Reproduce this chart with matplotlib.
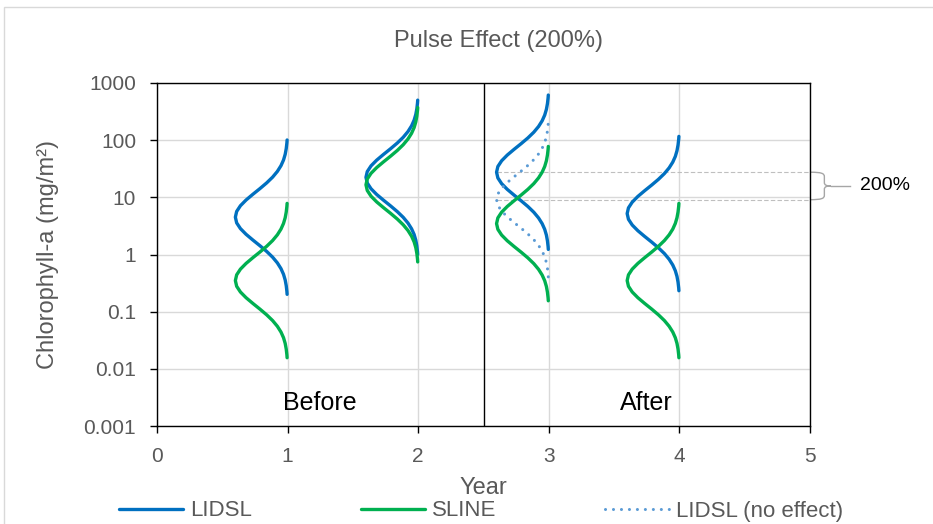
import numpy as np
import matplotlib
matplotlib.use("Agg")
import matplotlib.pyplot as plt
from matplotlib.path import Path
from matplotlib.patches import PathPatch, Rectangle

plt.rcParams['font.family'] = ['Liberation Sans', 'DejaVu Sans']

# half profile of each sideways bell: distance from the centre (decades of chl-a)
# and the relative width of the bulge at that distance
half_offset = [0.0, 0.1, 0.2, 0.3, 0.4, 0.5, 0.6, 0.7, 0.8, 0.9, 1.0, 1.1, 1.2, 1.3, 1.35]
half_depth = [1.000, 0.975, 0.903, 0.795, 0.665, 0.529, 0.400, 0.287, 0.196,
              0.127, 0.078, 0.046, 0.026, 0.0135, 0.0096]
bulge = 0.40  # years

# centre (mg/m2) of each distribution, by year
lidsl_years = [1, 2, 3, 4]
lidsl_centre = [4.5, 22.4, 27.5, 5.2]
sline_years = [1, 2, 3, 4]
sline_centre = [0.35, 16.6, 3.47, 0.35]
noeffect_years = [3]
noeffect_centre = [9.1]

blue = '#0070C0'
green = '#00B050'
light_blue = '#5B9BD5'
grey_txt = '#595959'

# mirror the half profile to get the full bell
offs = np.array([-o for o in half_offset[:0:-1]] + half_offset)
prof = np.array(half_depth[:0:-1] + half_depth)


def bell(year, centre):
    x = year - bulge * prof
    y = centre * 10 ** offs
    return x, y


fig = plt.figure(figsize=(9.33, 5.24), dpi=100)
ax = fig.add_axes([157 / 933, 1 - 426 / 524, (810 - 157) / 933, (426 - 83) / 524])

fig.patches.append(Rectangle((4 / 933, -0.1), 1.2, 1.1 - 7 / 524, transform=fig.transFigure,
                             fill=False, edgecolor='#D9D9D9', lw=1.0))

for i, (yr, c) in enumerate(zip(lidsl_years, lidsl_centre)):
    x, y = bell(yr, c)
    ax.plot(x, y, color=blue, lw=2.4, solid_capstyle='round', zorder=3,
            label='LIDSL' if i == 0 else None)
for i, (yr, c) in enumerate(zip(sline_years, sline_centre)):
    x, y = bell(yr, c)
    ax.plot(x, y, color=green, lw=2.4, solid_capstyle='round', zorder=3,
            label='SLINE' if i == 0 else None)
for i, (yr, c) in enumerate(zip(noeffect_years, noeffect_centre)):
    x, y = bell(yr, c)
    ax.plot(x, y, color=light_blue, lw=2.2, linestyle=(0, (0.01, 2.6)),
            dash_capstyle='round', zorder=4,
            label='LIDSL (no effect)' if i == 0 else None)

ax.set_yscale('log')
ax.set_ylim(0.001, 1000)
ax.set_xlim(0, 5)
ax.set_yticks([0.001, 0.01, 0.1, 1, 10, 100, 1000])
ax.set_yticklabels(['0.001', '0.01', '0.1', '1', '10', '100', '1000'])
ax.set_xticks(range(6))
ax.minorticks_off()
ax.grid(True, color='#D9D9D9', lw=1.0)
ax.set_axisbelow(True)
for s in ax.spines.values():
    s.set_color('black')
    s.set_linewidth(1.0)
ax.tick_params(axis='both', direction='out', length=5, width=1, color='black',
               labelsize=15, labelcolor=grey_txt)
ax.tick_params(axis='y', pad=10)
ax.tick_params(axis='x', pad=10)

ax.axvline(2.5, color='black', lw=1.0, zorder=2)

ax.text(1.25, 0.0025, 'Before', fontsize=18, ha='center', va='center')
ax.text(3.75, 0.0025, 'After', fontsize=18, ha='center', va='center')

# 200% gap between the shifted peak and the no-effect peak
up = lidsl_centre[2]
low = noeffect_centre[0]
x_peak = 3 - bulge
ax.plot([x_peak, 5.0], [up, up], color='#BFBFBF', lw=0.8, ls=(0, (4, 2)), zorder=2, clip_on=False)
ax.plot([x_peak, 5.0], [low, low], color='#BFBFBF', lw=0.8, ls=(0, (4, 2)), zorder=2, clip_on=False)

lu, ll = np.log10(up), np.log10(low)
lm = (lu + ll) / 2
pts = [(5.0, lu), (5.09, lu), (5.11, lu - 0.02), (5.11, lu - 0.08),
       (5.11, lm + 0.06),
       (5.11, lm + 0.01), (5.13, lm), (5.16, lm),
       (5.13, lm), (5.11, lm - 0.01), (5.11, lm - 0.06),
       (5.11, ll + 0.08),
       (5.11, ll + 0.02), (5.09, ll), (5.0, ll)]
codes = [Path.MOVETO, Path.CURVE4, Path.CURVE4, Path.CURVE4, Path.LINETO,
         Path.CURVE4, Path.CURVE4, Path.CURVE4,
         Path.CURVE4, Path.CURVE4, Path.CURVE4, Path.LINETO,
         Path.CURVE4, Path.CURVE4, Path.CURVE4]
brace = Path([(px, 10 ** py) for px, py in pts], codes)
ax.add_patch(PathPatch(brace, fill=False, edgecolor='#A6A6A6', lw=1.0, clip_on=False))
ax.plot([5.16, 5.31], [10 ** lm, 10 ** lm], color='#A6A6A6', lw=1.0, clip_on=False)
ax.text(5.38, 10 ** lm, '200%', fontsize=14, ha='left', va='center')

ax.set_xlabel('Year', fontsize=17, color=grey_txt, labelpad=8)
ax.set_ylabel('Chlorophyll-a (mg/m²)', fontsize=17, color=grey_txt, labelpad=18)
fig.text(498 / 933, 1 - 41 / 524, 'Pulse Effect (200%)', fontsize=17, color=grey_txt,
         ha='center', va='center')

leg = fig.legend(loc='center', bbox_to_anchor=(481 / 933, 1 - 511 / 524), ncol=3,
                 frameon=False, fontsize=16, handlelength=2.9, handletextpad=0.3,
                 columnspacing=4.9, labelcolor=grey_txt)

fig.savefig('out.png', dpi=100)
